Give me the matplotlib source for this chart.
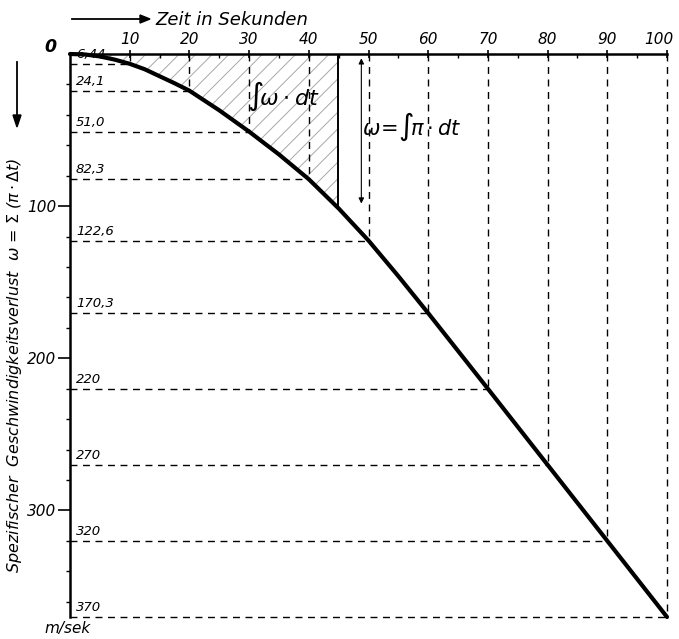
import matplotlib.pyplot as plt
import matplotlib.transforms as mtransforms
import numpy as np

# Zeit in Sekunden / spezifischer Geschwindigkeitsverlust (m/sek)
t_marks = [10, 20, 30, 40, 50, 60, 70, 80, 90, 100]
w_marks = [6.44, 24.1, 51.0, 82.3, 122.6, 170.3, 220, 270, 320, 370]
w_labels = ["6,44", "24,1", "51,0", "82,3", "122,6", "170,3", "220", "270", "320", "370"]

# Kurve (inkl. Zwischenpunkte)
t_curve = [0, 2.5, 5, 7.5, 10, 12.5, 15, 17.5, 20, 25, 30, 35, 40, 45, 50, 55, 60, 70, 80, 90, 100]
w_curve = [0, 0.3, 1.6, 3.7, 6.44, 10.0, 14.6, 19.2, 24.1, 37.0, 51.0, 66.0, 82.3, 101.5, 122.6, 146.0, 170.3, 220, 270, 320, 370]

t_int = 44.9  # Grenze der schraffierten Fläche
t_arrow = 48.8

fs = "italic"
plt.rcParams["mathtext.fontset"] = "dejavusans"
plt.rcParams["hatch.linewidth"] = 0.7

fig = plt.figure(figsize=(6.79, 6.39), dpi=100)
ax = fig.add_axes([70 / 679, 1 - 617 / 639, (667 - 70) / 679, (617 - 54) / 639])
ax.set_xlim(0, 100)
ax.set_ylim(370, 0)

for s in ["bottom", "right"]:
    ax.spines[s].set_visible(False)
ax.spines["top"].set_linewidth(1.8)
ax.spines["left"].set_linewidth(1.8)

ax.xaxis.tick_top()
ax.set_xticks(range(10, 101, 10))
ax.set_xticks(range(5, 100, 10), minor=True)
ax.set_xticklabels([str(v) for v in range(10, 101, 10)], fontsize=11, style=fs)
ax.tick_params(axis="x", which="major", direction="inout", length=6, width=1.2, pad=2)
ax.tick_params(axis="x", which="minor", direction="in", length=3, width=1)
last = ax.get_xticklabels()[-1]
last.set_transform(last.get_transform() + mtransforms.ScaledTranslation(-6 / 72, 0, fig.dpi_scale_trans))

ax.set_yticks([100, 200, 300])
ax.set_yticks([v for v in range(20, 370, 20) if v % 100], minor=True)
ax.set_yticklabels(["100", "200", "300"], fontsize=11, style=fs)
ax.tick_params(axis="y", which="major", direction="out", length=9, width=1.2, pad=1)
ax.tick_params(axis="y", which="minor", direction="out", length=3, width=1)

# schraffierte Fläche
tt = np.array([v for v in t_curve if v < t_int] + [t_int])
ww = np.interp(tt, t_curve, w_curve)
ax.fill_between(tt, 0, ww, facecolor="none", edgecolor="#a8a8a8", hatch="//", linewidth=0)
w_int = np.interp(t_int, t_curve, w_curve)
ax.plot([t_int, t_int], [0, w_int], color="black", lw=1.4)

# gestrichelte Hilfslinien
for t, w, lab in zip(t_marks, w_marks, w_labels):
    ax.plot([t, t], [0, w], color="black", lw=1.0, ls=(0, (5, 4)), clip_on=False)
    ax.plot([0, t], [w, w], color="black", lw=1.0, ls=(0, (5, 4)), clip_on=False)
    ax.text(1.0, w - 2, lab, fontsize=9.5, style=fs, ha="left", va="bottom")

ax.plot(t_curve, w_curve, color="black", lw=3, solid_capstyle="round", clip_on=False)

ax.annotate("", xy=(t_arrow, 1), xytext=(t_arrow, w_int - 1),
            arrowprops=dict(arrowstyle="<|-|>", lw=0.8, color="black", mutation_scale=8))
ax.text(29.6, 28, r"$\int\!\omega\cdot dt$", fontsize=16, ha="left", va="center")
ax.text(48.9, 48, r"$\omega\!=\!\int\!\pi\cdot dt$", fontsize=15, ha="left", va="center")

# Beschriftungen außerhalb
fig.text(50 / 679, 1 - 47 / 639, "0", fontsize=12.5, style=fs, fontweight="bold", ha="center", va="center")
fig.text(155 / 679, 1 - 20 / 639, "Zeit in Sekunden", fontsize=13, style=fs, ha="left", va="center")
fig.add_artist(plt.Line2D([72 / 679, 140 / 679], [1 - 19 / 639, 1 - 19 / 639], color="black", lw=1.3))
fig.patches.append(plt.Polygon([[140 / 679, 1 - 15 / 639], [140 / 679, 1 - 23 / 639], [150 / 679, 1 - 19 / 639]],
                               closed=True, color="black", transform=fig.transFigure))
fig.text(15 / 679, 1 - 365 / 639, r"Spezifischer  Geschwindigkeitsverlust  $\omega$ = $\Sigma$ ($\pi\cdot\Delta t$)",
         fontsize=11.5, style=fs, rotation=90, ha="center", va="center")
fig.add_artist(plt.Line2D([17 / 679, 17 / 679], [1 - 62 / 639, 1 - 118 / 639], color="black", lw=1.3))
fig.patches.append(plt.Polygon([[13 / 679, 1 - 115 / 639], [21 / 679, 1 - 115 / 639], [17 / 679, 1 - 127 / 639]],
                               closed=True, color="black", transform=fig.transFigure))
fig.text(68 / 679, 1 - 629 / 639, "m/sek", fontsize=11, style=fs, ha="center", va="center")

fig.savefig("out.png", dpi=100)
